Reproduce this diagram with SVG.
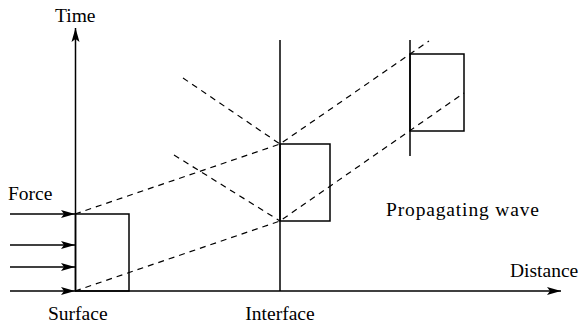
<svg xmlns="http://www.w3.org/2000/svg" width="582" height="325" viewBox="0 0 582 325">
<style>
.ax{stroke:#000;stroke-width:1.5;fill:none}
.bx{stroke:#000;stroke-width:1.5;fill:none}
.ds{stroke:#000;stroke-width:1.2;fill:none;stroke-dasharray:6 5}
text{font-family:"Liberation Serif","Times New Roman",serif;font-size:19.5px;fill:#000}
</style>
<defs>
<marker id="ah" markerWidth="15" markerHeight="10" refX="14" refY="5" orient="auto" markerUnits="userSpaceOnUse">
<path d="M0,1 L14,5 L0,9 L3,5 Z" fill="#000"/>
</marker>
</defs>
<g id="axes">
<line class="ax" x1="75.5" y1="291" x2="75.5" y2="28" marker-end="url(#ah)"/>
<line class="ax" x1="75" y1="291" x2="561" y2="291" marker-end="url(#ah)"/>
<text x="55" y="22">Time</text>
<text x="510" y="277">Distance</text>
</g>
<g id="force">
<line class="ax" x1="10" y1="214" x2="75" y2="214" marker-end="url(#ah)"/>
<line class="ax" x1="10" y1="245" x2="75" y2="245" marker-end="url(#ah)"/>
<line class="ax" x1="10" y1="267" x2="75" y2="267" marker-end="url(#ah)"/>
<line class="ax" x1="10" y1="291" x2="75" y2="291" marker-end="url(#ah)"/>
<text x="8" y="200">Force</text>
</g>
<g id="surface">
<rect class="bx" x="75.5" y="214" width="53.5" height="77"/>
<text x="48" y="320">Surface</text>
</g>
<g id="interface">
<line class="ax" x1="280" y1="40" x2="280" y2="291"/>
<rect class="bx" x="280" y="144" width="50" height="77"/>
<text x="280" y="320" text-anchor="middle">Interface</text>
</g>
<g id="wave">
<line class="ax" x1="410" y1="40" x2="410" y2="156"/>
<rect class="bx" x="410" y="54" width="54" height="77"/>
<text x="386" y="216" textLength="153" lengthAdjust="spacing">Propagating wave</text>
</g>
<g id="connectors">
<polyline class="ds" points="75,214 280,144 429,41"/>
<polyline class="ds" points="75,291 280,221 464,93"/>
<line class="ds" x1="183" y1="78" x2="280" y2="144"/>
<line class="ds" x1="174" y1="155" x2="280" y2="221"/>
</g>
</svg>
